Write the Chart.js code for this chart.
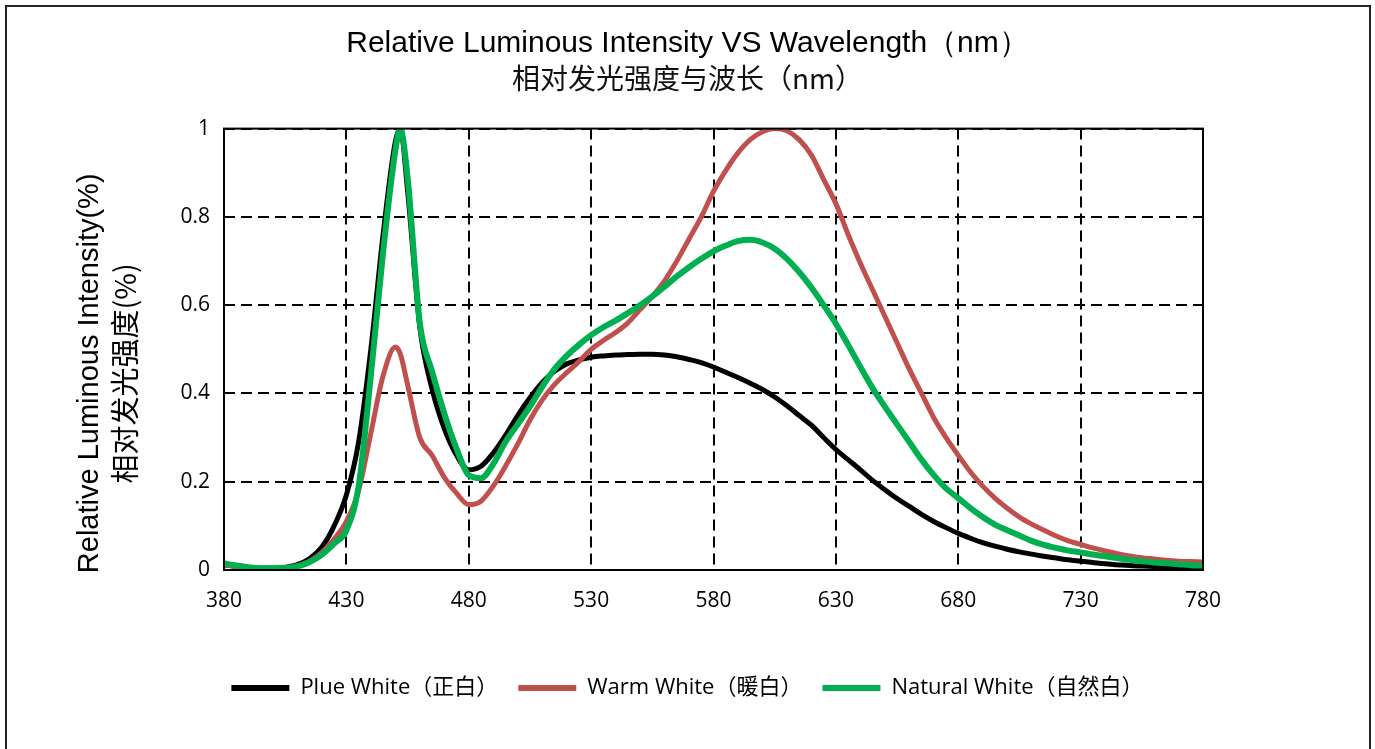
<!DOCTYPE html>
<html>
<head>
<meta charset="utf-8">
<script src="https://cdn.jsdelivr.net/npm/chart.js@4.4.1/dist/chart.umd.min.js"></script>
<style>
    html, body { margin: 0; padding: 0; background: #fff; overflow: hidden; }
    #wrap { position: relative; width: 1375px; height: 749px; }
    #frame {
        position: absolute; left: 5px; top: 5px; width: 1362px; height: 800px;
        border: 2px solid #222; pointer-events: none;
    }
</style>
</head>
<body>
<div id="wrap">
    <canvas id="chart" width="1375" height="749"></canvas>
    <div id="frame"></div>
</div>
<script>
const wavelengths = [
    380, 385, 390, 395, 400, 405, 410, 415, 420, 425, 430, 435, 440, 445, 450, 452, 455,
    460, 465, 470, 475, 480, 485, 490, 495, 500, 505, 510, 515, 520, 525, 530, 535, 540,
    545, 550, 555, 560, 565, 570, 575, 580, 585, 590, 595, 600, 605, 610, 615, 620, 625,
    630, 635, 640, 645, 650, 655, 660, 665, 670, 675, 680, 685, 690, 695, 700, 705, 710,
    715, 720, 725, 730, 735, 740, 745, 750, 755, 760, 765, 770, 775, 780
];

const plueWhite = [
    0.012, 0.008, 0.005, 0.004, 0.004, 0.006, 0.012, 0.026, 0.052, 0.1, 0.17, 0.29, 0.5, 0.76, 0.97, 1.0, 0.86,
    0.55, 0.41, 0.32, 0.26, 0.227, 0.235, 0.265, 0.305, 0.35, 0.39, 0.425, 0.45, 0.467, 0.476, 0.482, 0.485, 0.487,
    0.488, 0.489, 0.489, 0.487, 0.483, 0.477, 0.47, 0.46, 0.448, 0.436, 0.423, 0.409, 0.392, 0.372, 0.35, 0.328, 0.3,
    0.273, 0.25, 0.227, 0.203, 0.182, 0.162, 0.144, 0.126, 0.11, 0.096, 0.083, 0.072, 0.062, 0.054, 0.047, 0.041, 0.036,
    0.031, 0.027, 0.023, 0.02, 0.017, 0.014, 0.012, 0.01, 0.009, 0.008, 0.007, 0.006, 0.005, 0.005
];

const warmWhite = [
    0.012, 0.008, 0.005, 0.004, 0.004, 0.005, 0.01, 0.02, 0.04, 0.07, 0.11, 0.18, 0.31, 0.44, 0.505, 0.49, 0.42,
    0.3, 0.26, 0.21, 0.174, 0.148, 0.156, 0.19, 0.235, 0.285, 0.34, 0.385, 0.42, 0.447, 0.472, 0.5, 0.52, 0.538,
    0.56, 0.59, 0.62, 0.655, 0.7, 0.75, 0.8, 0.858, 0.905, 0.945, 0.975, 0.993, 1.0, 0.995, 0.975, 0.94, 0.885,
    0.83, 0.76, 0.695, 0.635, 0.575, 0.515, 0.455, 0.4, 0.345, 0.3, 0.26, 0.222, 0.19, 0.163, 0.14, 0.12, 0.104,
    0.09, 0.077, 0.066, 0.058, 0.05, 0.043, 0.037, 0.032, 0.028, 0.025, 0.022, 0.02, 0.019, 0.018
];

const naturalWhite = [
    0.015, 0.01, 0.006, 0.004, 0.004, 0.005, 0.008, 0.018, 0.035, 0.06, 0.09, 0.19, 0.44, 0.72, 0.95, 1.0, 0.89,
    0.56, 0.45, 0.355, 0.275, 0.215, 0.208, 0.24, 0.29, 0.33, 0.37, 0.415, 0.455, 0.485, 0.51, 0.532, 0.55, 0.565,
    0.582, 0.6, 0.62, 0.642, 0.665, 0.686, 0.705, 0.722, 0.735, 0.745, 0.748, 0.742, 0.728, 0.705, 0.675, 0.64, 0.6,
    0.558, 0.51, 0.46, 0.412, 0.37, 0.33, 0.29, 0.25, 0.215, 0.185, 0.163, 0.14, 0.12, 0.103, 0.09, 0.078, 0.066,
    0.057, 0.05, 0.044, 0.04, 0.035, 0.031, 0.027, 0.023, 0.02, 0.017, 0.015, 0.013, 0.011, 0.01
];

const seriesNames = ['Plue White（正白）', 'Warm White（暖白）', 'Natural White（自然白）'];
const seriesColors = ['#000000', '#C0504D', '#00B050'];
const xTicks = [380, 430, 480, 530, 580, 630, 680, 730, 780];
const yTitle = ['Relative Luminous Intensity(%)', '相对发光强度(%)'];

const toPoints = values => wavelengths.map((w, i) => ({ x: w, y: values[i] }));

// solid frame round the plot area (grid lines are dashed)
const plotFrame = {
    id: 'plotFrame',
    afterDatasetsDraw(chart) {
        const a = chart.chartArea;
        const ctx = chart.ctx;
        ctx.save();
        ctx.strokeStyle = '#000';
        ctx.lineWidth = 2;
        ctx.setLineDash([]);
        ctx.strokeRect(a.left, a.top, a.right - a.left, a.bottom - a.top);
        ctx.restore();
    }
};

// two-line y title, each line in its own font, sitting a bit below centre like the original
const yAxisTitle = {
    id: 'yAxisTitle',
    afterDraw(chart) {
        const a = chart.chartArea;
        const ctx = chart.ctx;
        const midY = (a.top + a.bottom) / 2 + 24;
        const lines = [
            { text: yTitle[0], x: a.left - 134, font: '29px "Liberation Sans", Arial' },
            { text: yTitle[1], x: a.left - 99, font: '29px "Noto Sans CJK SC"' }
        ];
        ctx.save();
        ctx.fillStyle = '#000';
        ctx.textAlign = 'center';
        ctx.textBaseline = 'middle';
        lines.forEach(l => {
            ctx.save();
            ctx.translate(l.x, midY);
            ctx.rotate(-Math.PI / 2);
            ctx.font = l.font;
            ctx.fillText(l.text, 0, 0);
            ctx.restore();
        });
        ctx.restore();
    }
};

const lineSet = (i, width, order) => ({
    label: seriesNames[i],
    data: toPoints([plueWhite, warmWhite, naturalWhite][i]),
    borderColor: seriesColors[i],
    backgroundColor: seriesColors[i],
    borderWidth: width,
    pointRadius: 0,
    cubicInterpolationMode: 'monotone',
    yAxisID: 'y',
    order: order
});

new Chart(document.getElementById('chart'), {
    type: 'line',
    plugins: [plotFrame, yAxisTitle],
    data: {
        datasets: [
            lineSet(0, 5, 3),
            lineSet(1, 5, 2),
            lineSet(2, 6, 1)
        ]
    },
    options: {
        responsive: false,
        animation: false,
        layout: {
            padding: { left: 0, right: 0, top: 0, bottom: 40 }
        },
        plugins: {
            title: {
                display: true,
                text: 'Relative Luminous Intensity VS Wavelength（nm）',
                color: '#000',
                font: { family: 'Liberation Sans, Arial', size: 30, weight: 'normal' },
                padding: { top: 26, bottom: 0 }
            },
            subtitle: {
                display: true,
                text: '相对发光强度与波长（nm）',
                color: '#111',
                font: { family: 'Noto Sans CJK SC', size: 28, weight: 'normal' },
                padding: { top: 0, bottom: 33 }
            },
            legend: {
                position: 'bottom',
                labels: {
                    color: '#000',
                    font: { family: 'Open Sans, Noto Sans CJK SC', size: 22 },
                    boxWidth: 58,
                    boxHeight: 6,
                    useBorderRadius: true,
                    borderRadius: 3,
                    padding: 20,
                    generateLabels(chart) {
                        return chart.data.datasets.map((ds, i) => ({
                            text: ds.label,
                            fillStyle: ds.borderColor,
                            strokeStyle: ds.borderColor,
                            lineWidth: 0,
                            fontColor: '#000',
                            datasetIndex: i
                        }));
                    }
                }
            },
            tooltip: { enabled: false }
        },
        scales: {
            x: {
                type: 'linear',
                min: 380,
                max: 780,
                afterBuildTicks(scale) {
                    scale.ticks = xTicks.map(v => ({ value: v }));
                },
                afterFit(scale) {
                    scale.height = 87;
                },
                grid: {
                    color: '#000',
                    lineWidth: 2,
                    drawTicks: false
                },
                border: { display: false, dash: [11, 6] },
                ticks: {
                    color: '#000',
                    padding: 18,
                    maxRotation: 0,
                    font: { family: 'Open Sans', size: 21 }
                }
            },
            y: {
                min: 0,
                max: 1,
                afterFit(scale) {
                    scale.width = 224;
                },
                grid: {
                    color: '#000',
                    lineWidth: 2,
                    drawTicks: false
                },
                border: { display: false, dash: [11, 6] },
                ticks: {
                    stepSize: 0.2,
                    color: '#000',
                    padding: 14,
                    font: { family: 'Open Sans', size: 21 },
                    callback: v => String(Math.round(v * 10) / 10)
                }
            },
            // empty right-hand axis only to keep the plot clear of the right side
            yRight: {
                position: 'right',
                min: 0,
                max: 1,
                afterFit(scale) {
                    scale.width = 172;
                },
                grid: { display: false },
                border: { display: false },
                ticks: { display: false }
            }
        }
    }
});
</script>
</body>
</html>
